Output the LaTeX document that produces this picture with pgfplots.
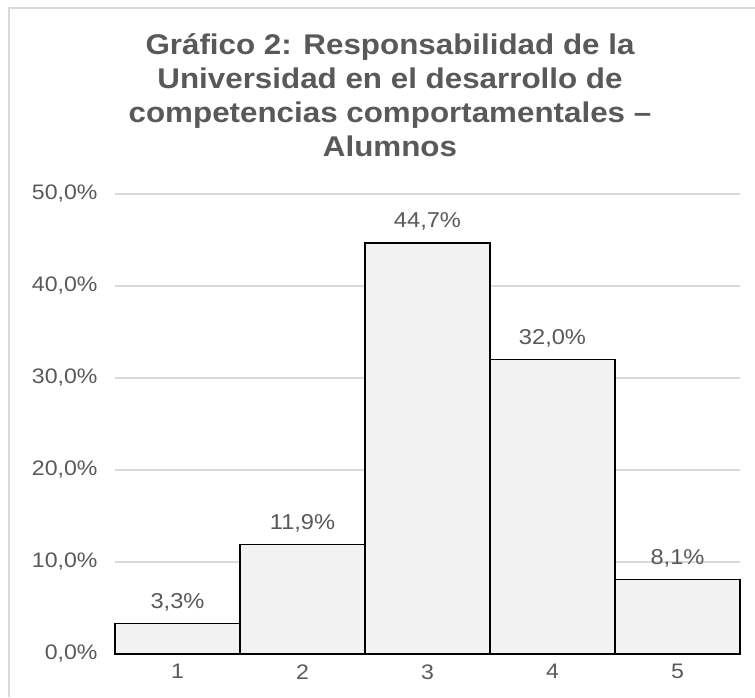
\documentclass[border=0pt]{standalone}
\usepackage{pgfplots}
\pgfplotsset{compat=1.18}
\usepackage{fontspec}
\setmainfont{Liberation Sans}[FakeStretch=1.1]
\definecolor{txt}{HTML}{595959}
\definecolor{gridc}{HTML}{D9D9D9}
\definecolor{barf}{HTML}{F2F2F2}
\begin{document}
\begin{tikzpicture}[x=1pt,y=1pt]
\useasboundingbox (0,0) rectangle (755,697);
\draw[gridc, line width=1.5pt] (9,0) -- (9,689) -- (755,689);
\node[anchor=base, text=txt, font=\bfseries\fontsize{28.5}{32}\selectfont, inner sep=0pt] at (390,642) {Gráfico 2: Responsabilidad de la};
\node[anchor=base, text=txt, font=\bfseries\fontsize{28.5}{32}\selectfont, inner sep=0pt] at (390,608) {Universidad en el desarrollo de};
\node[anchor=base, text=txt, font=\bfseries\fontsize{28.5}{32}\selectfont, inner sep=0pt] at (390,574) {competencias comportamentales –};
\node[anchor=base, text=txt, font=\bfseries\fontsize{28.5}{32}\selectfont, inner sep=0pt] at (390,540) {Alumnos};
\begin{axis}[
  at={(115pt,43pt)}, anchor=south west,
  scale only axis, width=625pt, height=460pt,
  xmin=0.5, xmax=5.5, ymin=0, ymax=50,
  axis line style={draw=none}, major tick length=0pt,
  xtick={1,2,3,4,5}, ytick={0,10,20,30,40,50},
  ymajorgrids, grid style={gridc, line width=1.2pt},
  /pgf/number format/assume math mode=true,
  tick label style={text=txt, font=\fontsize{21}{24}\selectfont},
  yticklabel={\pgfmathprintnumber[fixed,fixed zerofill,precision=1,use comma]{\tick}\%},
  xticklabel style={yshift=-7pt},
  yticklabel style={xshift=-14pt},
  ybar, bar width=1,
  nodes near coords={\pgfmathprintnumber[fixed,fixed zerofill,precision=1,use comma]{\pgfplotspointmeta}\%},
  nodes near coords style={text=txt, font=\fontsize{21.5}{24}\selectfont, anchor=base, yshift=15pt},
  clip=false,
]
\addplot[fill=barf, draw=black, line width=1.5pt] coordinates {(1,3.3) (2,11.9) (3,44.7) (4,32.0) (5,8.1)};
\end{axis}
\end{tikzpicture}
\end{document}
